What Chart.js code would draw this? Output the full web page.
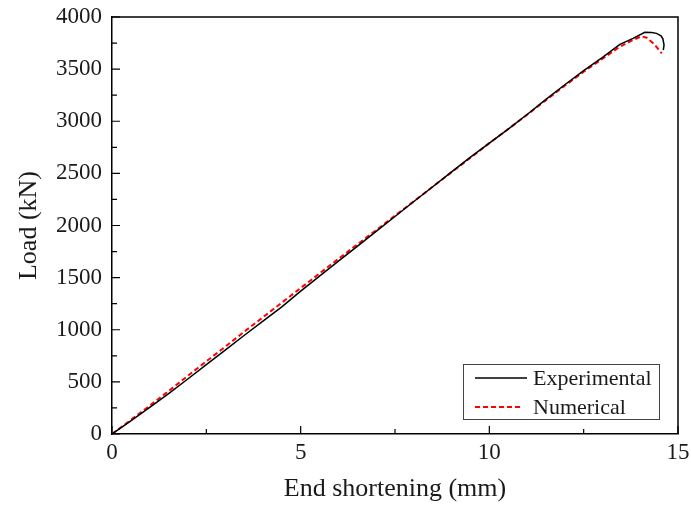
<!DOCTYPE html>
<html>
<head>
<meta charset="utf-8">
<script src="https://cdn.jsdelivr.net/npm/chart.js@4/dist/chart.umd.min.js"></script>
<style>
html,body{margin:0;padding:0;background:#fff;}
#wrap{width:691px;height:506px;}
</style>
</head>
<body>
<div id="wrap"><canvas id="c" width="691" height="506"></canvas></div>
<script>
// ---- data ----
const expX = [0,0.5,1,1.5,2,2.5,3,3.5,4,4.5,5,5.5,6,6.5,7,7.5,8,8.5,9,9.5,10,10.5,11,11.5,12,12.5,13,13.46,13.81,14.12,14.3,14.43,14.55,14.6,14.63,14.61];
const expY = [0,125,255,388,525,665,805,945,1082,1220,1370,1515,1658,1800,1943,2086,2230,2372,2515,2655,2790,2925,3065,3210,3350,3485,3612,3738,3795,3853,3852,3843,3820,3790,3731,3683];
const numX = [0,0.5,1,1.5,2,2.5,3,3.5,4,4.5,5,5.5,6,6.5,7,7.5,8,8.5,9,9.5,10,10.5,11,11.5,12,12.5,13,13.46,13.81,14.03,14.17,14.35,14.57];
const numY = [0,135,272,412,555,697,837,980,1120,1260,1400,1540,1680,1818,1955,2095,2232,2372,2512,2650,2790,2925,3062,3202,3342,3475,3600,3715,3780,3815,3801,3747,3652];
const seriesNames = ["Experimental","Numerical"];
const xTicks = [0,5,10,15];
const xMinor = [2.5,7.5,12.5];
const yTicks = [0,500,1000,1500,2000,2500,3000,3500,4000];
const yMinor = [250,750,1250,1750,2250,2750,3250,3750];
const xTitle = "End shortening (mm)";
const yTitle = "Load (kN)";

const FONT = "'Liberation Serif','Times New Roman',serif";
const TXT = "#1a1a1a";

const toPts = (xs, ys) => xs.map((x, i) => ({x: x, y: ys[i]}));

const frameTicks = {
  id: 'frameTicks',
  afterDraw(chart) {
    const {ctx, chartArea: a, scales: {x, y}} = chart;
    ctx.save();
    ctx.strokeStyle = '#000';
    ctx.lineWidth = 1.5;
    ctx.beginPath();
    ctx.moveTo(a.left, a.top); ctx.lineTo(a.right, a.top); ctx.lineTo(a.right, a.bottom);
    ctx.stroke();
    ctx.lineWidth = 1.2;
    ctx.beginPath();
    xTicks.forEach(v => { const p = x.getPixelForValue(v); ctx.moveTo(p, a.bottom); ctx.lineTo(p, a.bottom - 8); });
    xMinor.forEach(v => { const p = x.getPixelForValue(v); ctx.moveTo(p, a.bottom); ctx.lineTo(p, a.bottom - 5); });
    yTicks.forEach(v => { const p = y.getPixelForValue(v); ctx.moveTo(a.left, p); ctx.lineTo(a.left + 8, p); });
    yMinor.forEach(v => { const p = y.getPixelForValue(v); ctx.moveTo(a.left, p); ctx.lineTo(a.left + 5, p); });
    ctx.stroke();
    ctx.restore();
  }
};

const boxLegend = {
  id: 'boxLegend',
  afterDraw(chart) {
    const {ctx} = chart;
    const ds = chart.data.datasets;
    const left = 463, top = 364, w = 196, h = 55;
    ctx.save();
    ctx.fillStyle = '#fff';
    ctx.fillRect(left, top, w, h);
    ctx.strokeStyle = '#444';
    ctx.lineWidth = 1;
    ctx.strokeRect(left + 0.5, top + 0.5, w, h);
    ctx.font = "22px " + FONT;
    ctx.textBaseline = 'middle';
    ctx.fillStyle = TXT;
    const rows = [top + 14, top + 43];
    ds.forEach((d, i) => {
      ctx.strokeStyle = d.borderColor;
      ctx.lineWidth = d.borderWidth;
      ctx.setLineDash(d.borderDash || []);
      ctx.beginPath();
      ctx.moveTo(left + 12, rows[i]);
      ctx.lineTo(left + (i === 0 ? 64 : 58), rows[i]);
      ctx.stroke();
      ctx.setLineDash([]);
      ctx.fillText(d.label, left + 70, rows[i] + 1);
    });
    ctx.restore();
  }
};

new Chart(document.getElementById('c'), {
  type: 'line',
  data: {
    datasets: [
      {label: seriesNames[0], data: toPts(expX, expY), borderColor: '#000', borderWidth: 1.5, pointRadius: 0, tension: 0, fill: false},
      {label: seriesNames[1], data: toPts(numX, numY), borderColor: '#ff0000', borderWidth: 2, borderDash: [5, 3], pointRadius: 0, tension: 0, fill: false}
    ]
  },
  options: {
    responsive: false,
    animation: false,
    events: [],
    layout: {padding: {top: 17, right: 13, left: 0, bottom: 0}},
    plugins: {legend: {display: false}, tooltip: {enabled: false}},
    scales: {
      x: {
        type: 'linear', min: 0, max: 15,
        afterBuildTicks: s => { s.ticks = xTicks.map(v => ({value: v})); },
        afterFit: s => { s.height = 72; s.paddingLeft = 0; s.paddingRight = 0; },
        grid: {display: false, drawTicks: false},
        border: {display: true, color: '#000', width: 1.5},
        ticks: {color: TXT, font: {family: FONT, size: 23}, padding: 5, maxRotation: 0, callback: v => String(v)},
        title: {display: true, text: xTitle, color: TXT, font: {family: FONT, size: 26}, padding: {top: 0, bottom: 1}}
      },
      y: {
        type: 'linear', min: 0, max: 4000,
        afterBuildTicks: s => { s.ticks = yTicks.map(v => ({value: v})); },
        afterFit: s => { s.width = 112; s.paddingTop = 0; s.paddingBottom = 0; },
        grid: {display: false, drawTicks: false},
        border: {display: true, color: '#000', width: 1.5},
        ticks: {color: TXT, font: {family: FONT, size: 23}, padding: 10, callback: v => String(v)},
        title: {display: true, text: yTitle, color: TXT, font: {family: FONT, size: 26}, padding: {top: 14, bottom: 4}}
      }
    }
  },
  plugins: [frameTicks, boxLegend]
});
</script>
</body>
</html>
